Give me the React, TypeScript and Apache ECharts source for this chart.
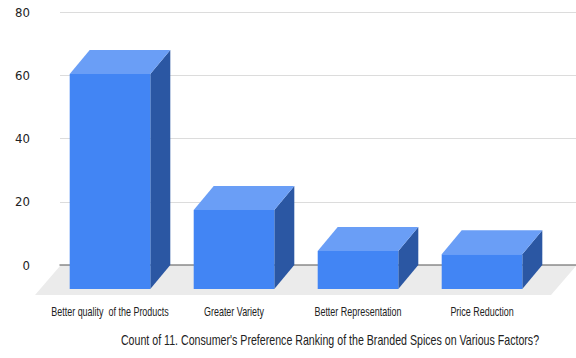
import React, { useEffect, useRef } from "react";
import * as echarts from "echarts";

const categories = [
  "Better quality  of the Products",
  "Greater Variety",
  "Better Representation",
  "Price Reduction",
];
const counts = [68, 25, 12, 11];
const axisTitle =
  "Count of 11. Consumer's Preference Ranking of the Branded Spices on Various Factors?";

const FRONT = "#4285f4";
const TOP = "#6a9ef6";
const SIDE = "#2b57a3";
const FLOOR = "#ebebeb";
const TEXT = "#222222";
const DX = -20; // depth offset from back face to front face
const DY = 24;
const FONT_FAMILY = '"Liberation Sans", Arial, sans-serif';
const SQUEEZE = 0.69;

export default function App() {
  const ref = useRef<HTMLDivElement>(null);

  useEffect(() => {
    document.body.style.margin = "0";
    const chart = echarts.init(ref.current!, null, { renderer: "svg" });

    const renderItem = (params: any, api: any) => {
      const i = api.value(0);
      const v = api.value(1);
      const [cx, yt] = api.coord([i, v]);
      const [, y0] = api.coord([i, 0]);
      const w = api.size([1, 0])[0] * 0.65;
      const bx0 = cx - w / 2;
      const bx1 = cx + w / 2;
      const children: any[] = [];
      if (params.dataIndex === 0) {
        const cs = params.coordSys;
        const l = cs.x - 8;
        const r = cs.x + cs.width + 12;
        children.push({
          type: "polygon",
          z2: 0,
          shape: {
            points: [
              [l, y0 + 1],
              [r, y0 + 1],
              [r - 25, y0 + 30],
              [l - 25, y0 + 30],
            ],
          },
          style: { fill: FLOOR },
        });
      }
      // side face
      children.push({
        type: "polygon",
        z2: 2,
        shape: {
          points: [
            [bx1 + DX, yt + DY],
            [bx1, yt],
            [bx1, y0],
            [bx1 + DX, y0 + DY],
          ],
        },
        style: { fill: SIDE },
      });
      // top face
      children.push({
        type: "polygon",
        z2: 2,
        shape: {
          points: [
            [bx0 + DX, yt + DY],
            [bx0, yt],
            [bx1, yt],
            [bx1 + DX, yt + DY],
          ],
        },
        style: { fill: TOP },
      });
      // front face
      children.push({
        type: "rect",
        z2: 3,
        shape: { x: bx0 + DX, y: yt + DY, width: w, height: y0 - yt },
        style: { fill: FRONT },
      });
      // category label
      children.push({
        type: "text",
        z2: 4,
        x: cx + DX,
        y: y0 + 46,
        scaleX: SQUEEZE,
        style: {
          text: categories[i],
          fill: TEXT,
          fontSize: 13,
          fontFamily: FONT_FAMILY,
          align: "center",
          verticalAlign: "middle",
          textAlign: "center",
          textVerticalAlign: "middle",
        },
      });
      return { type: "group", children };
    };

    chart.setOption({
      animation: false,
      grid: [
        { left: 60, right: 0, top: 12, bottom: 93 },
        { left: 68, right: 12, top: 12, bottom: 93 },
      ],
      xAxis: [
        {
          gridIndex: 0,
          type: "category",
          data: categories,
          axisLine: { show: true, lineStyle: { color: "#8c8c8c", width: 1.5 } },
          axisTick: { show: false },
          axisLabel: { show: false },
        },
        { gridIndex: 1, type: "category", data: categories, show: false },
      ],
      yAxis: [
        {
          gridIndex: 0,
          type: "value",
          min: 0,
          max: 80,
          interval: 20,
          axisLabel: {
            color: TEXT,
            fontSize: 13,
            fontFamily: '"Liberation Sans Narrow", "DejaVu Sans Condensed", "Liberation Sans", Arial, sans-serif',
            margin: 30,
          },
          splitLine: { lineStyle: { color: "#dcdcdc", width: 1 } },
          axisLine: { show: false },
          axisTick: { show: false },
        },
        { gridIndex: 1, type: "value", min: 0, max: 80, interval: 20, show: false },
      ],
      series: [
        {
          type: "custom",
          xAxisIndex: 1,
          yAxisIndex: 1,
          clip: false,
          data: counts.map((v, i) => [i, v]),
          renderItem,
        },
      ],
      graphic: [
        {
          type: "text",
          x: 330,
          y: 340,
          scaleX: 0.76,
          style: {
            text: axisTitle,
            fill: TEXT,
            fontSize: 14,
            fontFamily: FONT_FAMILY,
            textAlign: "center",
            textVerticalAlign: "middle",
            align: "center",
            verticalAlign: "middle",
          },
        },
      ],
    });

    return () => chart.dispose();
  }, []);

  return <div ref={ref} style={{ width: 576, height: 358 }} />;
}
